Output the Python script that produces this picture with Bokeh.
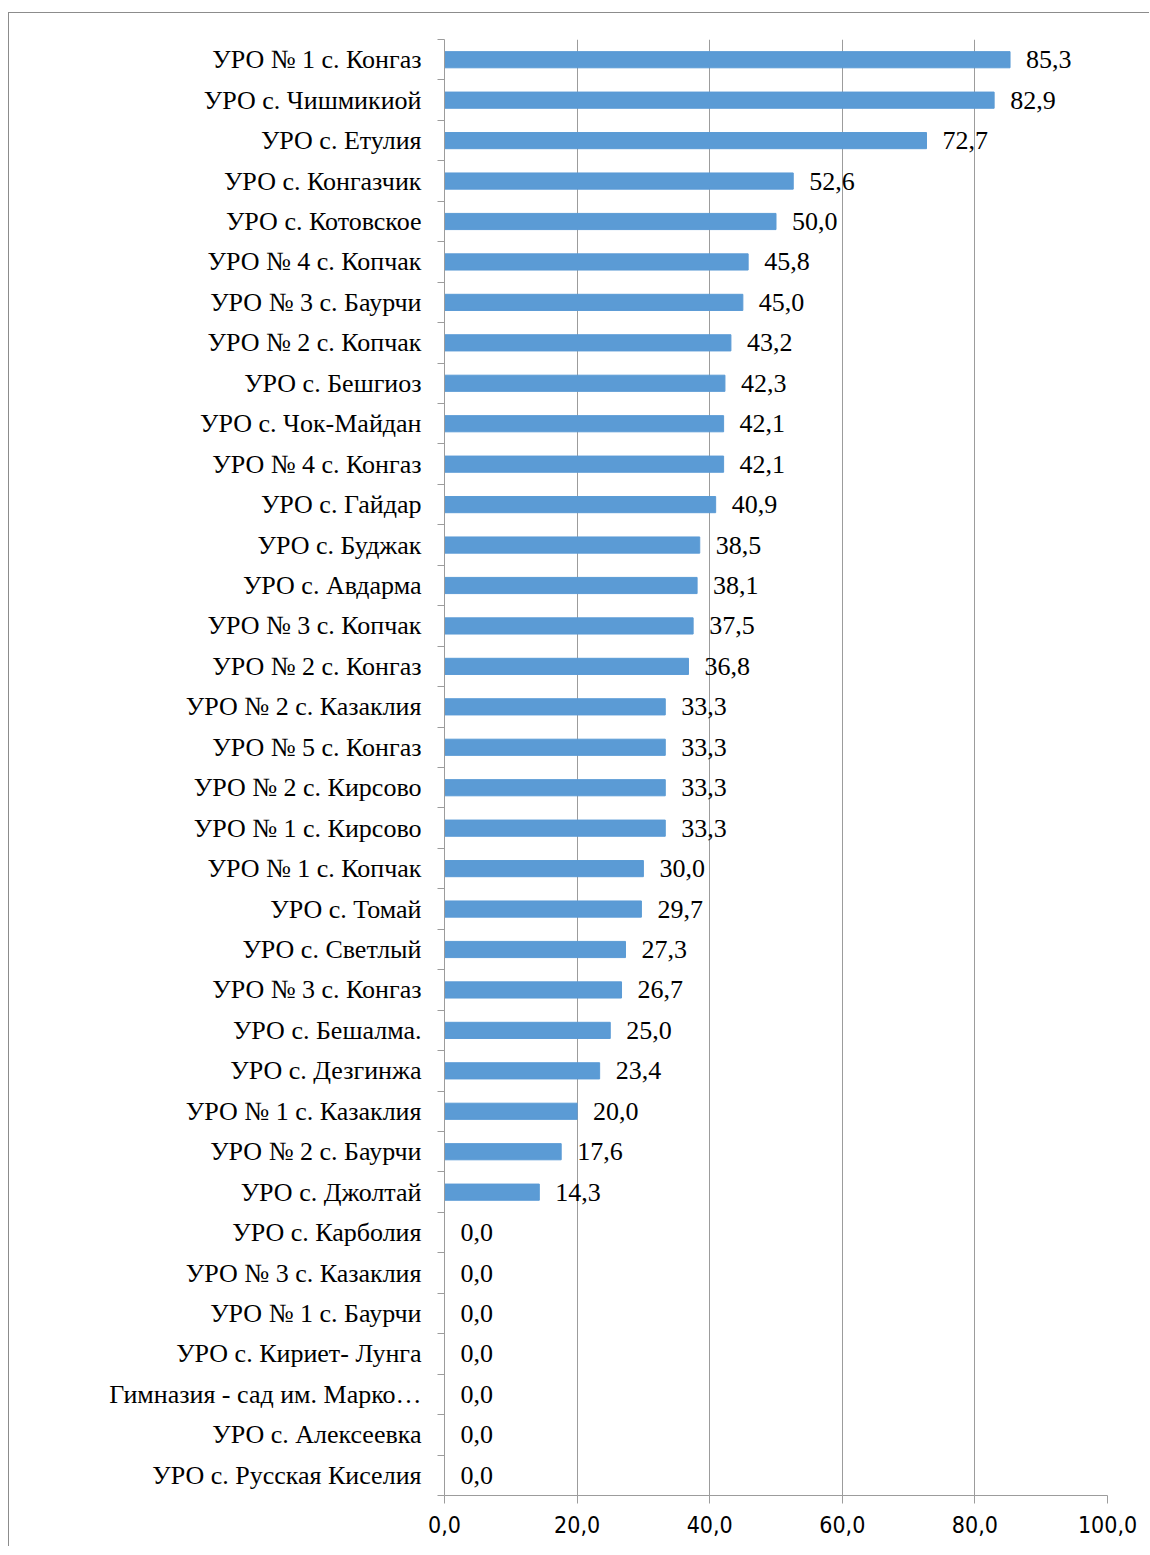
from bokeh.plotting import figure
from bokeh.models import Range1d, LinearAxis, FixedTicker, ColumnDataSource
from bokeh.core.properties import value
from bokeh.embed import file_html
from bokeh.resources import INLINE

categories = [
    "УРО № 1 с. Конгаз", "УРО с. Чишмикиой", "УРО с. Етулия", "УРО с. Конгазчик",
    "УРО с. Котовское", "УРО № 4 с. Копчак", "УРО № 3 с. Баурчи", "УРО № 2 с. Копчак",
    "УРО с. Бешгиоз", "УРО с. Чок-Майдан", "УРО № 4 с. Конгаз", "УРО с. Гайдар",
    "УРО с. Буджак", "УРО с. Авдарма", "УРО № 3 с. Копчак", "УРО № 2 с. Конгаз",
    "УРО № 2 с. Казаклия", "УРО № 5 с. Конгаз", "УРО № 2 с. Кирсово", "УРО № 1 с. Кирсово",
    "УРО № 1 с. Копчак", "УРО с. Томай", "УРО с. Светлый", "УРО № 3 с. Конгаз",
    "УРО с. Бешалма.", "УРО с. Дезгинжа", "УРО № 1 с. Казаклия", "УРО № 2 с. Баурчи",
    "УРО с. Джолтай", "УРО с. Карболия", "УРО № 3 с. Казаклия", "УРО № 1 с. Баурчи",
    "УРО с. Кириет- Лунга", "Гимназия - сад им. Марко…", "УРО с. Алексеевка",
    "УРО с. Русская Киселия",
]
values = [
    85.3, 82.9, 72.7, 52.6, 50.0, 45.8, 45.0, 43.2, 42.3, 42.1, 42.1, 40.9,
    38.5, 38.1, 37.5, 36.8, 33.3, 33.3, 33.3, 33.3, 30.0, 29.7, 27.3, 26.7,
    25.0, 23.4, 20.0, 17.6, 14.3, 0.0, 0.0, 0.0, 0.0, 0.0, 0.0, 0.0,
]
x_ticks = [0, 20, 40, 60, 80, 100]
x_tick_labels = ["0,0", "20,0", "40,0", "60,0", "80,0", "100,0"]

n = len(categories)
labels = [f"{v:.1f}".replace(".", ",") for v in values]
# row slots: first category at the top
pos = [n - i - 0.5 for i in range(n)]

GRID = "#9c9c9c"
BAR = "#5B9BD5"

src = ColumnDataSource(dict(pos=pos, val=values, lab=labels))

p = figure(
    width=1141, height=1534,
    y_range=Range1d(0, n), x_range=Range1d(0, 100),
    output_backend="svg", toolbar_location=None,
    y_axis_location=None,
    min_border_left=435, min_border_right=43, min_border_top=26, min_border_bottom=52,
)
p.outline_line_color = None
p.styles = {"border-left": "1px solid #8c8c8c", "border-top": "1px solid #8c8c8c",
            "margin-top": "12px", "margin-left": "8px"}

label_axis = LinearAxis(
    ticker=FixedTicker(ticks=pos, minor_ticks=list(range(n + 1))),
    major_label_overrides={pv: c for pv, c in zip(pos, categories)},
    major_tick_line_color=None, major_tick_out=0, major_tick_in=0,
    minor_tick_line_color=GRID, minor_tick_out=7, minor_tick_in=0,
    axis_line_color=GRID,
    major_label_standoff=16,
    major_label_text_font="Liberation Serif", major_label_text_font_size="26px",
    major_label_text_color="#000000",
)
p.add_layout(label_axis, "left")

p.xaxis.ticker = FixedTicker(ticks=x_ticks)
p.xaxis.major_label_overrides = {t: l for t, l in zip(x_ticks, x_tick_labels)}
p.xaxis.major_tick_out = 8
p.xaxis.major_tick_in = 0
p.xaxis.minor_tick_line_color = None
p.xaxis.major_tick_line_color = GRID
p.xaxis.axis_line_color = GRID
p.xaxis.major_label_standoff = 12
p.xaxis.major_label_text_font = "DejaVu Sans Condensed"
p.xaxis.major_label_text_font_size = "23px"
p.xaxis.major_label_text_color = "#000000"

p.xgrid.ticker = FixedTicker(ticks=x_ticks)
p.xgrid.grid_line_color = GRID
p.ygrid.grid_line_color = None

p.hbar(y="pos", left=0, right="val", height=0.4, source=src,
       fill_color=BAR, line_color=BAR)
p.text(x="val", y="pos", text="lab", source=src, x_offset=16,
       text_baseline="middle", text_align="left",
       text_font=value("Liberation Serif"), text_font_size="26px",
       text_color="#000000")

open("out.html", "w").write(file_html(p, INLINE))
